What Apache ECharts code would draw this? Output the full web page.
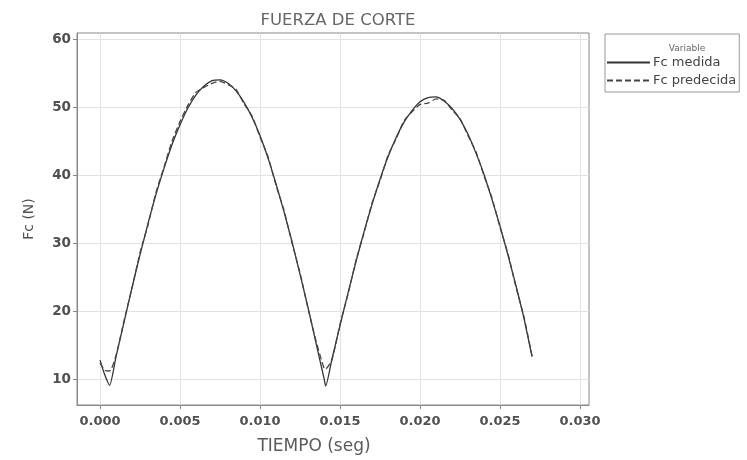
<!DOCTYPE html>
<html>
<head>
<meta charset="utf-8">
<script src="https://cdn.jsdelivr.net/npm/echarts@6/dist/echarts.min.js"></script>
<style>html,body{margin:0;padding:0;background:#fff}#c{width:747px;height:460px}</style>
</head>
<body>
<div id="c"></div>
<script>
const titleText = "FUERZA DE CORTE";
const xName = "TIEMPO (seg)";
const yName = "Fc (N)";
const legendTitle = "Variable";
const seriesNames = ["Fc medida", "Fc predecida"];
const xTicks = [0.000, 0.005, 0.010, 0.015, 0.020, 0.025, 0.030];
const yTicks = [10, 20, 30, 40, 50, 60];
const time = [0, 0.0003, 0.0006, 0.001, 0.0015, 0.002, 0.0025, 0.003, 0.0035, 0.004, 0.0045, 0.005, 0.0055, 0.006, 0.0065, 0.007, 0.0075, 0.008, 0.0085, 0.009, 0.0095, 0.010, 0.0105, 0.011, 0.0115, 0.012, 0.0125, 0.013, 0.0135, 0.014, 0.0141, 0.0145, 0.015, 0.0155, 0.016, 0.0165, 0.017, 0.0175, 0.018, 0.0185, 0.019, 0.0195, 0.020, 0.0205, 0.021, 0.0215, 0.022, 0.0225, 0.023, 0.0235, 0.024, 0.0245, 0.025, 0.0255, 0.026, 0.0265, 0.027];
const fcMedida = [12.8, 10.6, 9.1, 13.3, 18.4, 23.5, 28.3, 32.9, 37.2, 41.0, 44.5, 47.4, 49.9, 51.8, 53.1, 53.9, 54.0, 53.5, 52.4, 50.7, 48.5, 45.8, 42.5, 38.7, 34.6, 30.2, 25.4, 20.5, 15.3, 10.1, 9.0, 13.0, 17.9, 22.7, 27.3, 31.7, 35.7, 39.4, 42.7, 45.5, 47.8, 49.5, 50.8, 51.4, 51.5, 50.9, 49.8, 48.2, 46.0, 43.2, 40.1, 36.4, 32.5, 28.2, 23.7, 18.9, 13.3];
const fcPredecida = [12.4, 11.3, 11.2, 13.5, 18.6, 23.4, 28.6, 32.7, 37.5, 41.2, 45.0, 47.9, 50.3, 52.2, 52.9, 53.5, 53.8, 53.3, 52.6, 50.5, 48.7, 45.6, 42.7, 38.5, 34.8, 30.0, 25.6, 20.4, 15.6, 11.6, 11.5, 12.9, 18.1, 22.5, 27.5, 31.5, 35.9, 39.2, 42.9, 45.3, 48.0, 49.3, 50.4, 50.6, 51.2, 51.0, 49.6, 48.3, 45.8, 43.4, 39.9, 36.6, 32.3, 28.4, 23.5, 19.1, 13.4];

const pairs = arr => time.map((t, i) => [t, arr[i]]);
const chart = echarts.init(document.getElementById('c'), null, {renderer: 'canvas'});
const txt = '#505050';
const font = 'DejaVu Sans, Verdana, sans-serif';
chart.setOption({
  animation: false,
  backgroundColor: '#fff',
  title: [
    {text: titleText, left: 333, top: 7, textAlign: 'center',
     textStyle: {fontSize: 16.5, fontWeight: 'normal', color: '#666', fontFamily: font}},
    {text: legendTitle, left: 682, top: 39, textAlign: 'center',
     textStyle: {fontSize: 9, fontWeight: 'normal', color: '#666', fontFamily: font}}
  ],
  grid: {left: 77, top: 33, right: 158, bottom: 52, show: true, borderColor: '#888', borderWidth: 1},
  legend: {
    orient: 'vertical', left: 605, top: 34,
    padding: [22, 3, 5, 1], itemGap: 5, itemWidth: 43, itemHeight: 14,
    borderColor: '#999', borderWidth: 1,
    itemStyle: {opacity: 0},
    textStyle: {fontSize: 13, color: '#444', fontFamily: font, padding: [0, 0, 0, -2]},
    data: seriesNames
  },
  xAxis: {
    type: 'value', min: -0.00144, max: 0.03056,
    name: xName, nameLocation: 'middle', nameGap: 33,
    nameTextStyle: {fontSize: 17, color: '#5a5a5a', fontFamily: font, padding: [0, 38, 0, 0]},
    axisLine: {show: true, onZero: false, lineStyle: {color: '#888'}},
    axisTick: {show: true, length: 4, lineStyle: {color: '#888'}, customValues: xTicks},
    axisLabel: {customValues: xTicks, fontSize: 13, fontWeight: 'bold', color: txt, fontFamily: font, margin: 10,
      formatter: v => v.toFixed(3)},
    splitLine: {show: true, lineStyle: {color: '#e2e2e2'}}
  },
  yAxis: {
    type: 'value', min: 6.2, max: 60.9,
    name: yName, nameLocation: 'middle', nameGap: 41,
    nameTextStyle: {fontSize: 14, color: txt, fontFamily: font},
    axisLine: {show: true, onZero: false, lineStyle: {color: '#888'}},
    axisTick: {show: true, length: 4, lineStyle: {color: '#888'}, customValues: yTicks},
    axisLabel: {customValues: yTicks, fontSize: 13.5, fontWeight: 'bold', color: txt, fontFamily: font, margin: 6},
    splitLine: {show: true, lineStyle: {color: '#e2e2e2'}}
  },
  series: [
    {name: seriesNames[0], type: 'line', data: pairs(fcMedida), showSymbol: false, symbol: 'none',
     smooth: 0.2, lineStyle: {color: '#333', width: 1.3, type: 'solid'}, itemStyle: {color: '#333'}},
    {name: seriesNames[1], type: 'line', data: pairs(fcPredecida), showSymbol: false, symbol: 'none',
     smooth: 0.2, lineStyle: {color: '#444', width: 1.3, type: [6, 3]}, itemStyle: {color: '#444'}}
  ]
});
</script>
</body>
</html>
